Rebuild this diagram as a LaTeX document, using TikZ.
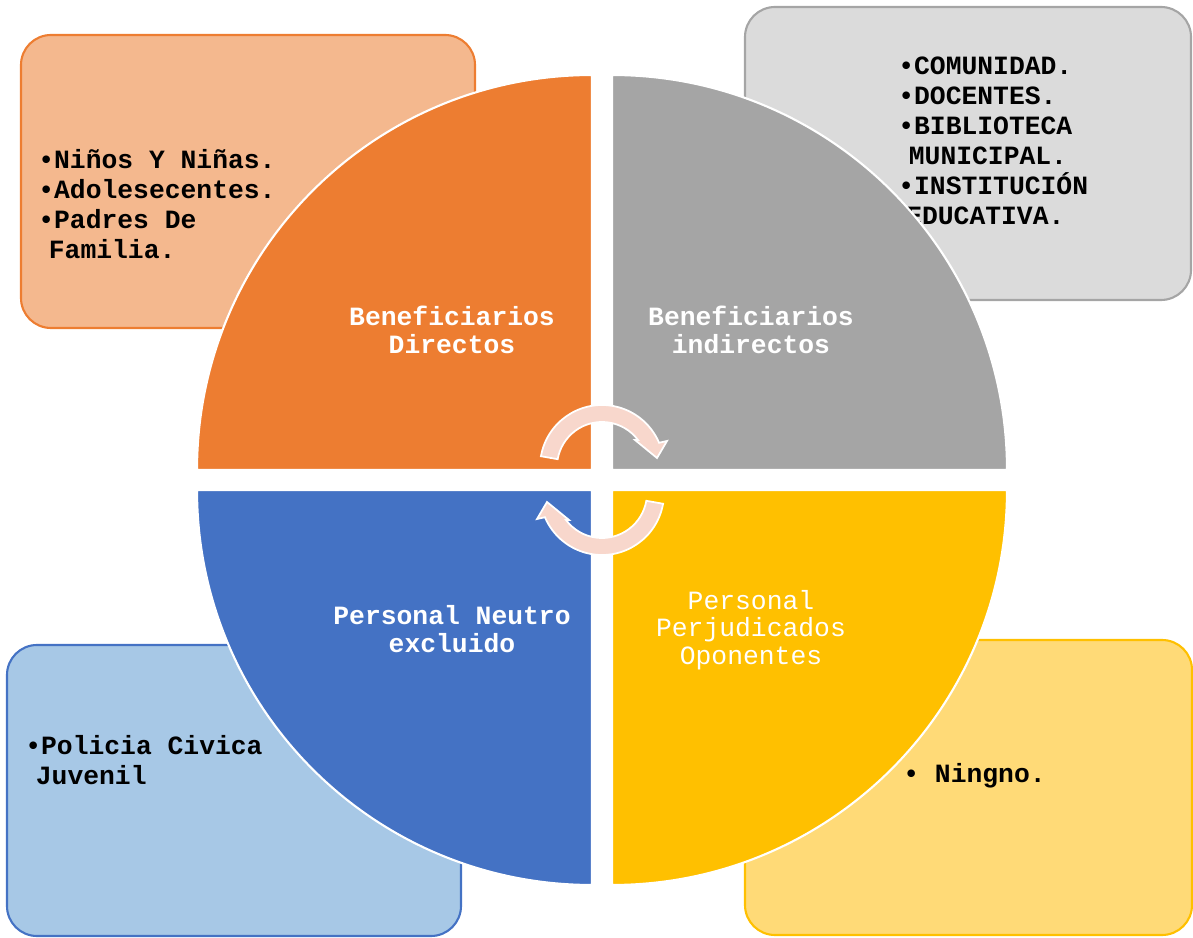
\documentclass[tikz,border=0pt]{standalone}
\usepackage{fontspec}
\setmonofont{Liberation Mono}
\definecolor{naranja}{HTML}{ED7D31}
\definecolor{naranjaclaro}{HTML}{F4B88E}
\definecolor{gris}{HTML}{A5A5A5}
\definecolor{grisclaro}{HTML}{DBDBDB}
\definecolor{azul}{HTML}{4472C4}
\definecolor{azulclaro}{HTML}{A7C8E6}
\definecolor{amarillo}{HTML}{FFC000}
\definecolor{amarilloclaro}{HTML}{FFDA77}
\definecolor{rosa}{HTML}{F8D7CC}
\begin{document}
\begin{tikzpicture}[x=0.02cm,y=0.02cm,
	caja/.style={line width=1.2pt,rounded corners=0.6cm},
	cuarto/.style={draw=white,line width=1.2pt},
	lista/.style={anchor=north west,inner sep=0pt,align=left,font=\ttfamily\bfseries\fontsize{15}{17}\selectfont},
	titulo/.style={text=white,align=center,inner sep=0pt,font=\ttfamily\bfseries\fontsize{15}{15.5}\selectfont},
	giro/.style={fill=rosa,draw=white,line width=1pt}]
	\useasboundingbox (0,0) rectangle (1193,937);
	% cajas de fondo
	\draw[caja,draw=naranja,fill=naranjaclaro] (21,609) rectangle (475,902);
	\draw[caja,draw=gris,fill=grisclaro] (745,637) rectangle (1191,930);
	\draw[caja,draw=azul,fill=azulclaro] (7,1) rectangle (461,292);
	\draw[caja,draw=amarillo,fill=amarilloclaro] (745,2) rectangle (1192,297);
	\path
	(38,788) node[lista] (dirlista) {•Niños Y Niñas.\\•Adolesecentes.\\•Padres De\\\hspace*{.4em}Familia.}
	(898,880) node[lista] (indlista) {•COMUNIDAD.\\•DOCENTES.\\•BIBLIOTECA\\\hspace*{.4em}MUNICIPAL.\\•INSTITUCIÓN\\\hspace*{.3em}EDUCATIVA.}
	(25,202) node[lista] (neulista) {•Policia Civica\\\hspace*{.4em}Juvenil}
	(903,174) node[lista] (perlista) {• Ningno.}
	;
	% circulo en cuatro partes
	\filldraw[cuarto,fill=naranja] (592,467) -- (197,467) arc[start angle=180,end angle=90,radius=395] -- cycle;
	\filldraw[cuarto,fill=gris] (612,467) -- (612,862) arc[start angle=90,end angle=0,radius=395] -- cycle;
	\filldraw[cuarto,fill=azul] (592,447) -- (592,52) arc[start angle=270,end angle=180,radius=395] -- cycle;
	\filldraw[cuarto,fill=amarillo] (612,447) -- (1007,447) arc[start angle=0,end angle=-90,radius=395] -- cycle;
	\path
	(452,607) node[titulo] (dir) {Beneficiarios\\Directos}
	(751,607) node[titulo] (ind) {Beneficiarios\\indirectos}
	(452,308) node[titulo] (neu) {Personal Neutro\\excluido}
	(751,307) node[titulo,font=\ttfamily\fontsize{15}{15.5}\selectfont] (per) {Personal\\Perjudicados\\Oponentes}
	;
	% flechas circulares
	\foreach \r in {0,180}{
		\begin{scope}[rotate around={\r:(602,457)}]
			\begin{scope}[shift={(602,470)}]
				\filldraw[giro] (170:62) arc[start angle=170,end angle=23,radius=62]
				-- (65,26) -- (55,9) -- (33,27) -- (37:45)
				arc[start angle=37,end angle=170,radius=45] -- cycle;
			\end{scope}
		\end{scope}
	}
\end{tikzpicture}
\end{document}
